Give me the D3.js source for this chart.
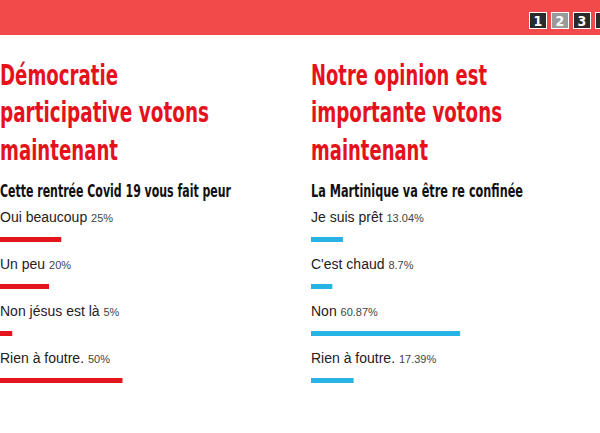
<!DOCTYPE html>
<html><head><meta charset="utf-8">
<script src="https://cdn.jsdelivr.net/npm/d3@7"></script>
<style>html,body{margin:0;padding:0;background:#fff;overflow:hidden}</style>
</head><body>
<svg id="c" width="600" height="433"></svg>
<script>
const pages = ["1","2","3",""];
const activePage = "2";
const titles1 = ["Démocratie","participative votons","maintenant"];
const question1 = "Cette rentrée Covid 19 vous fait peur";
const labels1 = ["Oui beaucoup","Un peu","Non jésus est là","Rien à foutre."];
const values1 = [25,20,5,50];
const titles2 = ["Notre opinion est","importante votons","maintenant"];
const question2 = "La Martinique va être re confinée";
const labels2 = ["Je suis prêt","C'est chaud","Non","Rien à foutre."];
const values2 = [13.04,8.7,60.87,17.39];

const svg = d3.select("#c");
// header band
svg.append("rect").attr("x",0).attr("y",0).attr("width",600).attr("height",35).attr("fill","#f24a4a");
const pg = svg.selectAll("g.pg").data(pages).join("g").attr("class","pg")
  .attr("transform",(d,i)=>`translate(${529+22*i},12)`);
pg.append("rect").attr("x",0.5).attr("y",0.5).attr("width",17).attr("height",16)
  .attr("fill",d=>d===activePage?"#9a9a9a":"#2b2b2b").attr("stroke","#fff").attr("stroke-width",1);
pg.append("text").attr("x",9).attr("y",14).attr("text-anchor","middle")
  .attr("font-family","'Liberation Sans Narrow','DejaVu Sans Condensed',sans-serif").attr("font-weight","bold")
  .attr("font-size",14).attr("fill","#fff").text(d=>d);

const titleWidths1 = [118,209,118], titleWidths2 = [176,191,117];
const x = d3.scaleLinear().domain([0,100]).range([0,245]);
const rowY = d3.scaleLinear().domain([0,1]).range([0,47]);

function panel(ox, titles, tw, question, qw, labels, values, color){
  const g = svg.append("g").attr("transform",`translate(${ox},0)`);
  g.selectAll("text.t").data(titles).join("text").attr("class","t")
    .attr("x",0).attr("y",(d,i)=>85+37.3*i)
    .attr("font-family","'Liberation Sans Narrow','DejaVu Sans Condensed',sans-serif")
    .attr("font-weight","bold").attr("font-size",29).attr("fill","#e5121c")
    .attr("textLength",(d,i)=>tw[i]).attr("lengthAdjust","spacingAndGlyphs").text(d=>d);
  g.append("text").attr("x",0).attr("y",197)
    .attr("font-family","'Liberation Sans Narrow','DejaVu Sans Condensed',sans-serif")
    .attr("font-weight","bold").attr("font-size",17).attr("fill","#111")
    .attr("textLength",qw).attr("lengthAdjust","spacingAndGlyphs").text(question);
  const rows = g.selectAll("g.r").data(labels.map((l,i)=>({l,v:values[i]}))).join("g").attr("class","r")
    .attr("transform",(d,i)=>`translate(0,${rowY(i)})`);
  const t = rows.append("text").attr("x",0).attr("y",222)
    .attr("font-family","'Liberation Sans',Arial,sans-serif").attr("font-size",14).attr("fill","#222");
  t.append("tspan").text(d=>d.l+" ");
  t.append("tspan").attr("font-size",11).attr("fill","#444").text(d=>d.v+"%");
  rows.append("rect").attr("x",0).attr("y",237).attr("height",5)
    .attr("width",d=>x(d.v)).attr("fill",color);
}
panel(0, titles1, titleWidths1, question1, 231, labels1, values1, "#e3141c");
panel(311, titles2, titleWidths2, question2, 212, labels2, values2, "#27b4e4");
</script>
</body></html>
